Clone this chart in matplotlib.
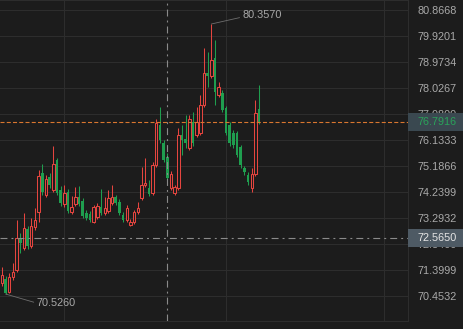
import matplotlib
matplotlib.use('Agg')
import matplotlib.pyplot as plt
import matplotlib.transforms as mtransforms
from matplotlib.patches import Rectangle
import numpy as np

# candle data (open / close / high / low)
opens = [70.93, 71.07, 70.60, 71.15, 71.40, 72.57, 72.20, 72.89, 72.27, 72.97,
         73.51, 74.93, 74.13, 74.79, 74.31, 75.41, 74.31, 73.80, 74.24, 73.51,
         73.80, 74.06, 73.91, 73.48, 73.44, 73.15, 73.33, 73.69, 73.48, 73.55,
         73.84, 74.06, 73.88, 73.40, 73.22, 73.04, 73.15, 73.51, 74.02, 74.50,
         74.39, 74.20, 75.22, 76.68, 76.02, 75.51, 74.39, 74.20, 74.39, 76.32,
         76.17, 75.84, 76.79, 76.32, 76.39, 77.41, 78.57, 78.46, 79.12, 77.77,
         77.85, 77.30, 76.68, 76.39, 76.39, 75.88, 75.11, 74.86, 74.39, 74.90,
         77.26]
closes = [71.22, 70.56, 71.15, 71.33, 72.57, 72.38, 72.93, 72.27, 73.00, 73.22,
          74.82, 74.24, 74.71, 74.50, 75.26, 74.20, 73.84, 74.20, 73.55, 73.69,
          74.06, 73.80, 73.37, 73.29, 73.22, 73.69, 73.73, 73.48, 73.66, 74.02,
          74.06, 73.84, 73.48, 73.22, 73.66, 73.15, 73.51, 73.66, 74.50, 74.57,
          74.17, 75.22, 76.75, 76.13, 75.41, 74.75, 74.90, 74.42, 76.32, 76.13,
          76.02, 76.90, 76.02, 76.79, 77.41, 78.57, 78.46, 79.05, 77.88, 78.06,
          77.23, 76.39, 76.02, 75.95, 75.59, 75.22, 74.97, 74.60, 74.90, 77.12,
          76.7916]
highs = [71.51, 71.18, 71.29, 71.66, 73.22, 72.75, 73.48, 73.00, 73.29, 73.66,
         75.04, 75.26, 74.86, 74.93, 75.92, 75.48, 74.46, 74.50, 74.35, 74.09,
         74.42, 74.46, 74.02, 73.59, 73.55, 73.77, 73.84, 74.35, 74.06, 74.31,
         74.50, 74.13, 73.99, 73.51, 73.77, 73.26, 73.59, 73.88, 75.15, 75.48,
         74.68, 75.33, 76.90, 77.34, 76.13, 75.66, 75.00, 74.50, 76.57, 76.68,
         77.04, 77.04, 77.15, 77.34, 77.77, 79.48, 79.34, 80.357, 79.78, 78.25,
         77.95, 77.37, 76.79, 76.50, 76.46, 75.95, 75.19, 74.97, 75.11, 77.59,
         78.14]
lows = [70.82, 70.526, 70.56, 71.04, 71.33, 72.02, 72.13, 72.16, 72.20, 72.86,
        73.15, 74.13, 74.06, 74.39, 74.24, 74.13, 73.73, 73.69, 73.48, 73.44,
        73.73, 73.73, 73.29, 73.22, 73.15, 73.11, 73.26, 73.40, 73.40, 73.48,
        73.77, 73.77, 73.40, 73.15, 73.15, 73.00, 73.08, 73.44, 73.95, 74.42,
        74.09, 74.13, 75.15, 76.02, 75.33, 74.68, 74.31, 74.13, 74.31, 75.59,
        75.84, 75.77, 75.92, 76.24, 76.32, 77.34, 78.06, 78.39, 77.41, 77.70,
        77.15, 76.32, 75.92, 75.84, 75.51, 75.11, 74.86, 74.50, 74.24, 74.82,
        76.72]

n_slots = 111                      # the day's full category axis, only part is filled
grid_slots = [17, 61, 104]         # vertical grid lines
y_ticks = [70.4532, 71.3999, 72.3466, 73.2932, 74.2399, 75.1866,
           76.1333, 77.0800, 78.0267, 78.9734, 79.9201, 80.8668]
cross_slot = 45
cross_price = 72.5650
max_label = "80.3570"
min_label = "70.5260"

BG = "#1c1c1c"
GRID = "#2d2d2d"
RED = "#e5453f"
GREEN = "#1f9e4f"
ORANGE = "#d9772f"
CROSS = "#8a8a8a"
LABEL = "#a9a9a9"

plt.rcParams['font.family'] = ['Liberation Sans', 'DejaVu Sans']
plt.rcParams['lines.scale_dashes'] = False

W, H = 463, 329
fig = plt.figure(figsize=(W / 100, H / 100), dpi=100)
fig.patch.set_facecolor(BG)
ax = fig.add_axes([0, 8 / H, 408 / W, 321 / H])
ax.set_facecolor(BG)

o = np.array(opens)
c = np.array(closes)
hi = np.array(highs)
lo = np.array(lows)
x = np.arange(len(o))
up = c >= o

# wicks then bodies (red = hollow, green = filled)
ax.vlines(x[up], lo[up], hi[up], color=RED, linewidth=0.75, zorder=2)
ax.vlines(x[~up], lo[~up], hi[~up], color=GREEN, linewidth=0.75, zorder=2)
ax.bar(x[up], c[up] - o[up], bottom=o[up], width=0.68,
       facecolor=BG, edgecolor=RED, linewidth=0.75, zorder=3)
ax.bar(x[~up], o[~up] - c[~up], bottom=c[~up], width=0.72,
       color=GREEN, linewidth=0, zorder=3)

ax.set_xlim(-0.5, n_slots - 0.5)
ax.set_ylim(69.543, 81.231)

# grid
for g in grid_slots:
    ax.axvline(g, color=GRID, linewidth=0.8, zorder=0)
ax.set_yticks(y_ticks)
ax.set_yticklabels([f"{t:.4f}" for t in y_ticks])
ax.yaxis.grid(True, color=GRID, linewidth=0.8, zorder=0)
ax.set_axisbelow(True)
ax.set_xticks([])
ax.yaxis.tick_right()
ax.tick_params(axis='y', length=0, pad=7, labelsize=7.8, labelcolor=LABEL)
ax.spines['left'].set_visible(False)
for s in ['top', 'right', 'bottom']:
    ax.spines[s].set_color(GRID)
    ax.spines[s].set_linewidth(0.8)

# last price line + crosshair
last = closes[-1]
ax.axhline(last, color=ORANGE, linewidth=0.8, linestyle=(0, (2.9, 1.6)), zorder=4)
dashdot = (0, (5, 2.9, 1.4, 2.9))
ax.axhline(cross_price, color=CROSS, linewidth=0.8, linestyle=dashdot, zorder=4)
ax.axvline(cross_slot, color=CROSS, linewidth=0.8, linestyle=dashdot, zorder=4)

# price tags on the right axis
blend = mtransforms.blended_transform_factory(fig.transFigure, ax.transData)
tag_h = 18 * (81.231 - 69.543) / 321
for price, fc, tc in [(last, "#3a4850", "#2aa35a"), (cross_price, "#4e5a64", "#e6e6e6")]:
    ax.add_patch(Rectangle((408 / W, price - tag_h / 2), 55 / W, tag_h, transform=blend,
                           facecolor=fc, edgecolor='none', clip_on=False, zorder=5))
    ax.text(418 / W, price, f"{price:.4f}", transform=blend, color=tc, fontsize=7.8,
            ha='left', va='center', zorder=6, clip_on=False)

# max / min markers
imax = int(np.argmax(hi))
imin = int(np.argmin(lo))
ax.annotate(max_label, xy=(imax, hi[imax]), xytext=(31, 9), textcoords='offset pixels',
            color=LABEL, fontsize=7.8, ha='left', va='center',
            arrowprops=dict(arrowstyle='-', color="#6e6e6e", lw=0.6,
                            shrinkA=0, shrinkB=0, relpos=(0, 0.3)))
ax.annotate(min_label, xy=(imin, lo[imin]), xytext=(31, -9), textcoords='offset pixels',
            color=LABEL, fontsize=7.8, ha='left', va='center',
            arrowprops=dict(arrowstyle='-', color="#6e6e6e", lw=0.6,
                            shrinkA=0, shrinkB=0, relpos=(0, 0.5)))

fig.savefig("out.png", dpi=100, facecolor=BG)
